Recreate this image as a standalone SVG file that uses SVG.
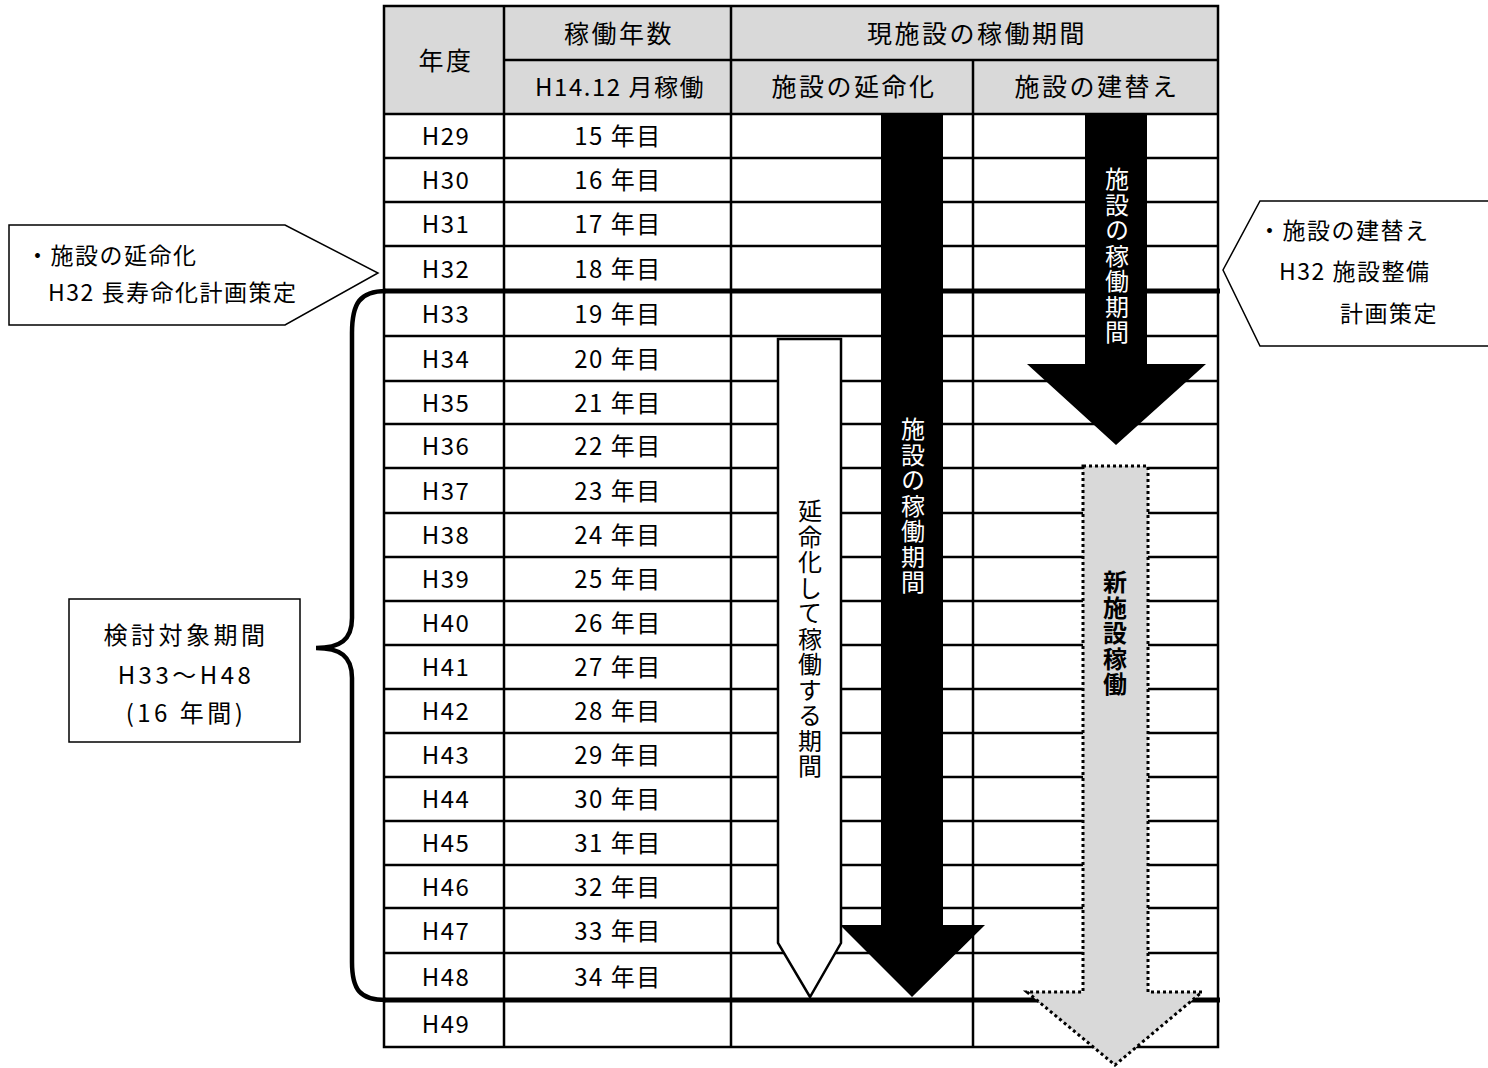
<svg xmlns="http://www.w3.org/2000/svg" width="1488" height="1068" viewBox="0 0 1488 1068">
<style>
text{font-family:"Noto Sans CJK JP","Noto Sans",sans-serif;fill:#000}
.h{font-size:25px;letter-spacing:2.5px;text-anchor:middle}
.r{font-size:24px;letter-spacing:1.5px;text-anchor:middle}
.b{font-size:24px;letter-spacing:3.5px;text-anchor:middle}
.c{font-size:23px;letter-spacing:1.5px}
.v{font-size:24px;writing-mode:vertical-rl;text-orientation:upright;letter-spacing:1.5px}
.w{fill:#fff}
.g{stroke:#000;stroke-width:2.5;fill:none}
.t{stroke:#000;stroke-width:5;fill:none}
</style>
<rect width="1488" height="1068" fill="#fff"/>
<g id="table">
<rect x="384" y="6" width="834" height="108" fill="#d9d9d9"/>
<g class="g">
<rect x="384" y="6" width="834" height="1041"/>
<line x1="504" y1="60" x2="1218" y2="60"/>
<line x1="504" y1="6" x2="504" y2="1047"/>
<line x1="731" y1="6" x2="731" y2="1047"/>
<line x1="973" y1="60" x2="973" y2="1047"/>
<line x1="384" y1="114" x2="1218" y2="114"/>
<line x1="384" y1="158" x2="1218" y2="158"/>
<line x1="384" y1="202" x2="1218" y2="202"/>
<line x1="384" y1="246" x2="1218" y2="246"/>
<line x1="384" y1="336" x2="1218" y2="336"/>
<line x1="384" y1="381" x2="1218" y2="381"/>
<line x1="384" y1="424" x2="1218" y2="424"/>
<line x1="384" y1="468" x2="1218" y2="468"/>
<line x1="384" y1="513" x2="1218" y2="513"/>
<line x1="384" y1="557" x2="1218" y2="557"/>
<line x1="384" y1="601" x2="1218" y2="601"/>
<line x1="384" y1="645" x2="1218" y2="645"/>
<line x1="384" y1="689" x2="1218" y2="689"/>
<line x1="384" y1="733" x2="1218" y2="733"/>
<line x1="384" y1="777" x2="1218" y2="777"/>
<line x1="384" y1="821" x2="1218" y2="821"/>
<line x1="384" y1="865" x2="1218" y2="865"/>
<line x1="384" y1="908" x2="1218" y2="908"/>
<line x1="384" y1="953" x2="1218" y2="953"/>
</g>
<g class="t">
<line x1="384" y1="291" x2="1220" y2="291"/>
<line x1="384" y1="1000" x2="1220" y2="1000"/>
</g>
<text class="h" x="446" y="70">年度</text>
<text class="h" x="619" y="43">稼働年数</text>
<text class="h" x="977" y="43">現施設の稼働期間</text>
<text class="h" x="620" y="96" style="font-size:24px;letter-spacing:1.5px">H14.12 月稼働</text>
<text class="h" x="854" y="96">施設の延命化</text>
<text class="h" x="1097" y="96">施設の建替え</text>
<g class="r">
<text x="446" y="145">H29</text><text x="618" y="145">15 年目</text>
<text x="446" y="189">H30</text><text x="618" y="189">16 年目</text>
<text x="446" y="233">H31</text><text x="618" y="233">17 年目</text>
<text x="446" y="278">H32</text><text x="618" y="278">18 年目</text>
<text x="446" y="323">H33</text><text x="618" y="323">19 年目</text>
<text x="446" y="368">H34</text><text x="618" y="368">20 年目</text>
<text x="446" y="412">H35</text><text x="618" y="412">21 年目</text>
<text x="446" y="455">H36</text><text x="618" y="455">22 年目</text>
<text x="446" y="500">H37</text><text x="618" y="500">23 年目</text>
<text x="446" y="544">H38</text><text x="618" y="544">24 年目</text>
<text x="446" y="588">H39</text><text x="618" y="588">25 年目</text>
<text x="446" y="632">H40</text><text x="618" y="632">26 年目</text>
<text x="446" y="676">H41</text><text x="618" y="676">27 年目</text>
<text x="446" y="720">H42</text><text x="618" y="720">28 年目</text>
<text x="446" y="764">H43</text><text x="618" y="764">29 年目</text>
<text x="446" y="808">H44</text><text x="618" y="808">30 年目</text>
<text x="446" y="852">H45</text><text x="618" y="852">31 年目</text>
<text x="446" y="896">H46</text><text x="618" y="896">32 年目</text>
<text x="446" y="940">H47</text><text x="618" y="940">33 年目</text>
<text x="446" y="986">H48</text><text x="618" y="986">34 年目</text>
<text x="446" y="1033">H49</text>
</g>
</g>
<g id="connectors">
<path id="brace" d="M386,291 C360,291 352,303 352,333 L352,618 C352,640 340,648 316,648 C340,648 352,656 352,678 L352,962 C352,990 360,1000 386,1000" fill="none" stroke="#000" stroke-width="4.5"/>
</g>
<g id="arrow-extend">
<polygon points="778,339 841,339 841,943 810,997 778,943" fill="#fff" stroke="#000" stroke-width="2.5"/>
<text class="v" x="810" y="499">延命化して稼働する期間</text>
</g>
<g id="arrow-current-1">
<polygon points="881,115 943,115 943,925 985,925 912,997 840,925 881,925" fill="#000"/>
<text class="v w" x="913" y="417">施設の稼働期間</text>
</g>
<g id="arrow-current-2">
<polygon points="1085,115 1147,115 1147,364 1206,364 1116,445 1027,364 1085,364" fill="#000"/>
<text class="v w" x="1117" y="167">施設の稼働期間</text>
</g>
<g id="arrow-new">
<polygon points="1083,466 1148,466 1148,992 1202,992 1115,1065 1027,992 1083,992" fill="#d9d9d9" stroke="#000" stroke-width="3" stroke-dasharray="3 3"/>
<text class="v" x="1115" y="570" style="font-weight:bold">新施設稼働</text>
</g>
<g id="callout-left">
<polygon points="9,225 285,225 378,273 285,325 9,325" fill="#fff" stroke="#000" stroke-width="1.5"/>
<text class="c" x="26" y="264">・施設の延命化</text>
<text class="c" x="48" y="301">H32 長寿命化計画策定</text>
</g>
<g id="callout-right">
<polygon points="1260,201 1492,201 1492,346 1260,346 1223,270" fill="#fff" stroke="#000" stroke-width="1.5"/>
<text class="c" x="1258" y="239">・施設の建替え</text>
<text class="c" x="1279" y="280">H32 施設整備</text>
<text class="c" x="1340" y="322">計画策定</text>
</g>
<g id="period-box">
<rect x="69" y="599" width="231" height="143" fill="#fff" stroke="#000" stroke-width="1.5"/>
<text class="b" x="186" y="644">検討対象期間</text>
<text class="b" x="186" y="684">H33～H48</text>
<text class="b" x="186" y="722">(16 年間)</text>
</g>
</svg>
